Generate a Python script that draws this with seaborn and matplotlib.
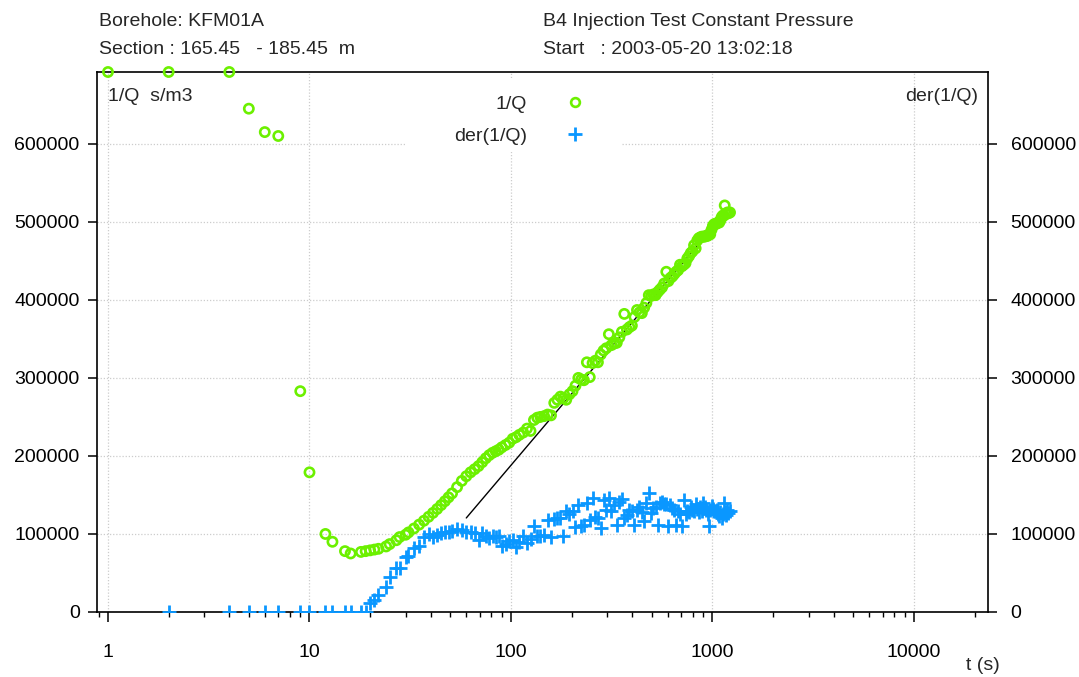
import numpy as np
import matplotlib
matplotlib.use("Agg")
import matplotlib.pyplot as plt
import seaborn as sns
import pandas as pd
from matplotlib.lines import Line2D
from matplotlib.patches import Rectangle
from matplotlib.ticker import NullFormatter, LogLocator

# ---------------- data ----------------
t_s = [1, 2, 4, 5, 6, 7, 9, 10, 12, 13, 15, 16, 18, 19,
       20, 21, 22, 24, 25, 27, 28, 30, 31, 33, 35, 37, 39, 41, 43, 45, 47, 49,
       51, 54, 57, 60, 63, 66, 69, 72, 75, 78, 81, 84, 87, 90, 94, 98,
       102, 106, 110, 115, 120, 125, 130, 135, 140, 146, 152, 158, 164, 170,
       176, 182, 188, 195, 202, 209, 216, 223, 230, 238, 246, 254, 262, 270,
       279, 288, 297, 306, 315, 325, 335, 345, 355, 365, 376, 387, 398, 410,
       422, 434, 446, 458, 470, 483, 496, 509, 522, 535, 548, 562, 576, 590,
       604, 618, 632, 646, 660, 675, 690, 705, 720, 735, 750, 765, 780, 795,
       810, 825, 840, 855, 870, 885, 900, 915, 930, 945, 960, 975, 990, 1005,
       1020, 1035, 1050, 1065, 1080, 1095, 1110, 1125, 1140, 1150, 1165, 1185,
       1200, 1222]

inv_q = [692000, 692000, 692000, 645000, 615000, 610000, 283000, 179000, 100000, 90000, 78000, 75000, 77000, 78000,
         79000, 80000, 81000, 84000, 87000, 92000, 96000, 99000, 102000, 107000, 112000, 117000, 122000, 127000, 132000, 137000, 142000, 147000,
         152000, 160000, 168000, 174000, 179000, 183000, 187000, 192000, 197000, 201000, 204000, 206000, 208000, 211000, 214000, 217000,
         222000, 224000, 227000, 230000, 235000, 232000, 246000, 249000, 250000, 251000, 253000, 252000, 268000, 272000,
         276000, 274000, 272000, 279000, 283000, 290000, 300000, 298000, 297000, 320000, 301000, 319000, 322000, 320000,
         330000, 335000, 338000, 356000, 342000, 344000, 345000, 352000, 359000, 382000, 362000, 365000, 367000, 378000,
         387000, 384000, 383000, 390000, 396000, 406000, 405000, 407000, 406000, 410000, 413000, 416000, 421000, 436000,
         424000, 428000, 430000, 433000, 436000, 438000, 445000, 443000, 445000, 447000, 453000, 456000, 460000, 462000,
         470000, 466000, 476000, 479000, 480000, 481000, 481000, 481000, 482000, 482000, 484000, 484000, 490000, 495000,
         497000, 497000, 498000, 499000, 499000, 502000, 506000, 508000, 508000, 521000, 510000, 512000,
         511000, 512000]

der_inv_q = [np.nan, 0, 0, 0, 0, 0, 0, 0, 0, 0, 0, 0, 0, 0,
             12000, 16000, 22000, 32000, 45000, 57000, 57000, 70000, 72000, 82000, 84000, 96000, 100000, 96000, 99000, 101000, 102000, 102000,
             104000, 107000, 105000, 103000, 102000, 101000, 92000, 101000, 98000, 95000, 97000, 96000, 97000, 84000, 87000, 91000,
             92000, 83000, 90000, 97000, 88000, 93000, 110000, 97000, 98000, 99000, 118000, 96000, 119000, 120000,
             121000, 97000, 130000, 125000, 130000, 109000, 137000, 110000, 112000, 140000, 118000, 146000, 122000, 120000,
             108000, 143000, 131000, 146000, 130000, 137000, 112000, 141000, 145000, 120000, 124000, 131000, 130000, 111000,
             131000, 134000, 128000, 116000, 140000, 152000, 127000, 133000, 135000, 111000, 140000, 141000, 139000, 138000,
             110000, 137000, 133000, 131000, 111000, 130000, 126000, 110000, 143000, 125000, 130000, 128000, 134000, 131000,
             129000, 139000, 132000, 128000, 135000, 130000, 140000, 134000, 131000, 125000, 110000, 131000, 136000, 132000,
             130000, 129000, 131000, 126000, 123000, 128000, 121000, 125000, 140000, 128000, 124000, 131000,
             127000, 129000]

fit_t = [60, 890]
fit_y = [120500, 477000]

x_ticks = [1, 10, 100, 1000, 10000]
x_tick_labels = ["1", "10", "100", "1000", "10000"]
y_ticks = [0, 100000, 200000, 300000, 400000, 500000, 600000]
y_tick_labels = [str(v) for v in y_ticks]

GREEN = "#6cf000"
BLUE = "#0a97ff"

df = pd.DataFrame({"t": t_s, "inv_q": inv_q, "der": der_inv_q})

# ---------------- figure ----------------
sns.set_theme(style="white")
plt.rcParams["font.family"] = ["Liberation Sans", "DejaVu Sans"]
FS = 14

fig = plt.figure(figsize=(10.79, 6.77), dpi=100)
ax = fig.add_axes([97 / 1079, 1 - 612 / 677, (988 - 97) / 1079, (612 - 72) / 677])

ax.set_xscale("log")
ax.set_xlim(0.882, 23300)
ax.set_ylim(0, 692000)

ax.set_axisbelow(True)
ax.grid(True, which="major", color="#cccccc", linestyle=(0, (1, 1.5)), linewidth=0.9)

# white legend background box
ax.add_patch(Rectangle((0.3457, 0.852), 0.589 - 0.3457, 0.989 - 0.852,
                       transform=ax.transAxes, facecolor="white", edgecolor="none", zorder=1))

ax.plot(fit_t, fit_y, color="black", linewidth=1.0, zorder=2)

sns.scatterplot(data=df, x="t", y="inv_q", ax=ax, marker="o", s=44,
                facecolor="none", edgecolor=GREEN, linewidth=1.9, zorder=4, clip_on=False, legend=False)
sns.scatterplot(data=df.dropna(), x="t", y="der", ax=ax, marker="+", s=90,
                color=BLUE, linewidth=2.0, zorder=3, legend=False)

ax.set_xlabel("")
ax.set_ylabel("")

for side in ["left", "right", "top", "bottom"]:
    ax.spines[side].set_visible(True)
    ax.spines[side].set_color("black")
    ax.spines[side].set_linewidth(1.2)

ax.set_xticks(x_ticks)
ax.set_xticklabels(x_tick_labels)
ax.xaxis.set_minor_locator(LogLocator(base=10, subs=np.arange(2, 10), numticks=20))
ax.xaxis.set_minor_formatter(NullFormatter())
ax.set_yticks(y_ticks)
ax.set_yticklabels(y_tick_labels)

ax.tick_params(axis="x", which="major", direction="out", length=7, width=1.1, colors="black",
               labelsize=FS, pad=16, bottom=True, top=False)
ax.tick_params(axis="x", which="minor", direction="out", length=3.5, width=1.0, colors="black",
               bottom=True, top=False)
ax.tick_params(axis="y", which="major", direction="out", length=6.5, width=1.1, colors="black",
               labelsize=FS, left=True, right=True, labelleft=True, labelright=True, pad=6)
for lab in ax.yaxis.get_ticklabels(which="major"):
    lab.set_fontsize(FS)
# shift right-hand labels a little further out
for tick in ax.yaxis.get_major_ticks():
    tick.label2.set_x(1.006)

# legend
handles = [Line2D([], [], linestyle="none", marker="o", markersize=6.3, markerfacecolor="none",
                  markeredgecolor=GREEN, markeredgewidth=1.9),
           Line2D([], [], linestyle="none", marker="+", markersize=9.5, color=BLUE, markeredgewidth=2.0)]
leg = ax.legend(handles, ["1/Q", "der(1/Q)"], loc="upper center", bbox_to_anchor=(0.474, 0.99),
                frameon=False, fontsize=FS, markerfirst=False, handlelength=1.0,
                handletextpad=2.0, labelspacing=0.75)
leg.set_zorder(5)

ax.text(0.012, 0.955, "1/Q  s/m3", transform=ax.transAxes, fontsize=FS, ha="left", va="center")
ax.text(0.989, 0.955, "der(1/Q)", transform=ax.transAxes, fontsize=FS, ha="right", va="center")

fig.text(99 / 1079, 1 - 22 / 677, "Borehole: KFM01A", fontsize=FS, ha="left", va="center")
fig.text(99 / 1079, 1 - 49 / 677, "Section : 165.45   - 185.45  m", fontsize=FS, ha="left", va="center")
fig.text(543 / 1079, 1 - 22 / 677, "B4 Injection Test Constant Pressure", fontsize=FS, ha="left", va="center")
fig.text(543 / 1079, 1 - 49 / 677, "Start   : 2003-05-20 13:02:18", fontsize=FS, ha="left", va="center")
fig.text(1000 / 1079, 1 - 665 / 677, "t (s)", fontsize=FS, ha="right", va="center")

fig.savefig("out.png", dpi=100, facecolor="white")
